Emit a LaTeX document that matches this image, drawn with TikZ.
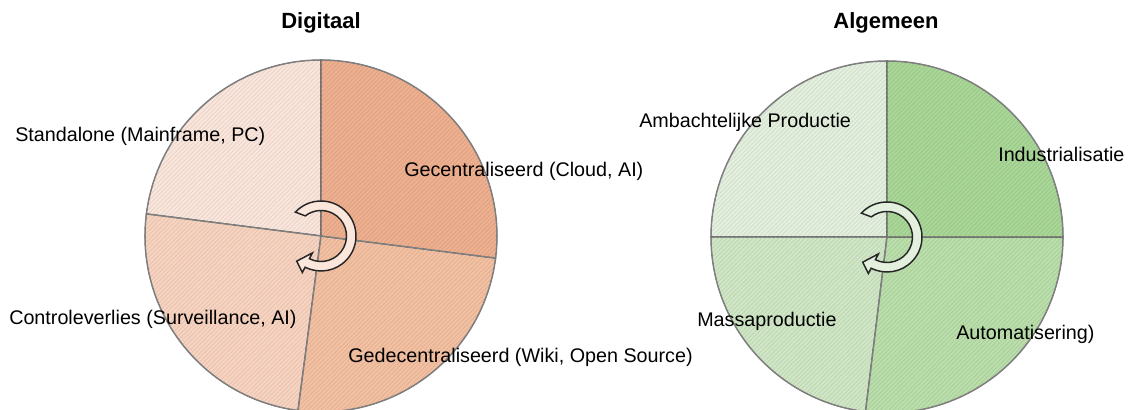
\documentclass[tikz,border=0pt]{standalone}
\usepackage{fontspec}
\setmainfont{Liberation Sans}
\usetikzlibrary{patterns.meta}
\definecolor{rim}{HTML}{7F7F7F}
\definecolor{digA}{HTML}{FBE6DC}
\definecolor{digB}{HTML}{F8D3C0}
\definecolor{digC}{HTML}{F4C0A2}
\definecolor{digD}{HTML}{EFB090}
\definecolor{algA}{HTML}{E4F0DE}
\definecolor{algB}{HTML}{D0E7C6}
\definecolor{algC}{HTML}{BADFAA}
\definecolor{algD}{HTML}{A9D797}
\tikzset{
  slice/.style={fill=#1,
    postaction={pattern={Lines[angle=45,distance=2.3pt,line width=0.5pt]},pattern color=#1!91!black},
    postaction={draw=rim,line width=1.1pt}},
  turn/.style={draw=black!85,line width=1.1pt,fill=#1},
  title/.style={font=\fontsize{16.5}{20}\selectfont\bfseries,anchor=base},
  lbl/.style={font=\fontsize{14.8}{18}\selectfont,anchor=base west,inner sep=0pt},
}
\begin{document}
\begin{tikzpicture}[x=0.75pt,y=0.75pt]
    \useasboundingbox (0,0) rectangle (1136,410);
    \coordinate (dig) at (321,174);
    \coordinate (alg) at (887,173);
    %% Digitaal
    \foreach \a/\b/\c in {90/172.8/digA,172.8/262.5/digB,262.5/352.8/digC,-7.2/90/digD}
        \draw[slice=\c] (dig) -- ++(\a:176) arc (\a:\b:176) -- cycle;
    %% Algemeen
    \foreach \a/\b/\c in {90/180/algA,180/263/algB,263/360/algC,0/90/algD}
        \draw[slice=\c] (alg) -- ++(\a:176) arc (\a:\b:176) -- cycle;
    %% cycle arrows
    \foreach \p/\c in {dig/digA,alg/algA}
        \draw[turn=\c,shift={(\p)}] (137:35) arc (137:-117:35) -- (-117:41) -- (226:35)
            -- (-117:19) -- (-117:25.5) arc (-117:128:25.5) -- cycle;
    %% titles
    \node[title] (digtitle) at (321,381) {Digitaal};
    \node[title] (algtitle) at (886,381) {Algemeen};
    %% labels
    \node[lbl] (standalone) at (15,268) {Standalone (Mainframe, PC)};
    \node[lbl] (central) at (404,233) {Gecentraliseerd (Cloud, AI)};
    \node[lbl] (control) at (9,85) {Controleverlies (Surveillance, AI)};
    \node[lbl] (decentral) at (348,47) {Gedecentraliseerd (Wiki, Open Source)};
    \node[lbl] (craft) at (639,282) {Ambachtelijke Productie};
    \node[lbl] (industry) at (998,248) {Industrialisatie};
    \node[lbl] (mass) at (697,83) {Massaproductie};
    \node[lbl] (auto) at (956,70) {Automatisering)};
\end{tikzpicture}
\end{document}
